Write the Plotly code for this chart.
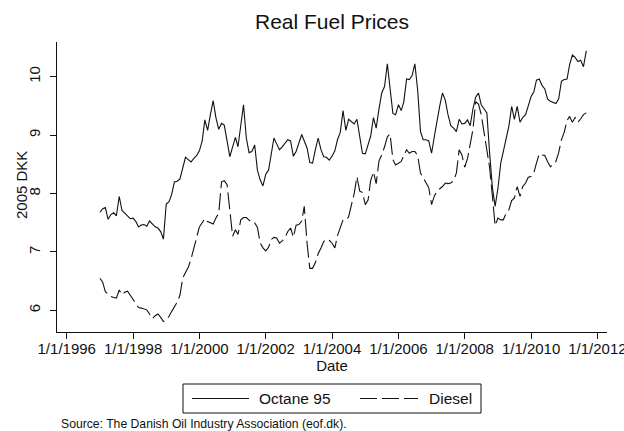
import pandas as pd
import plotly.graph_objects as go

# ---- data ----
start_month = "1997-01-01"
octane95 = [
    7.68, 7.74, 7.76, 7.56, 7.64, 7.67, 7.62, 7.95, 7.71, 7.66,
    7.62, 7.57, 7.58, 7.52, 7.43, 7.46, 7.47, 7.44, 7.53, 7.47,
    7.43, 7.41, 7.35, 7.22, 7.82, 7.86, 7.98, 8.20, 8.21, 8.25,
    8.45, 8.62, 8.58, 8.54, 8.60, 8.65, 8.73, 8.90, 9.26, 9.08,
    9.35, 9.59, 9.30, 9.10, 9.20, 9.17, 8.90, 8.63, 8.80, 8.96,
    8.80, 9.20, 9.52, 8.95, 8.70, 8.72, 8.83, 8.40, 8.23, 8.13,
    8.33, 8.40, 8.70, 8.95, 8.85, 8.75, 8.80, 8.86, 8.92, 8.90,
    8.64, 8.72, 8.85, 9.01, 8.90, 8.78, 8.53, 8.52, 8.75, 8.95,
    8.75, 8.63, 8.62, 8.57, 8.64, 8.73, 8.92, 9.05, 9.42, 9.08,
    9.27, 9.23, 9.19, 9.27, 8.95, 8.69, 8.68, 8.82, 8.98, 9.30,
    9.12, 9.45, 9.72, 9.83, 10.22, 9.80, 9.37, 9.35, 9.52, 9.42,
    9.57, 9.96, 9.95, 10.02, 10.22, 9.77, 9.06, 8.92, 8.92, 8.90,
    8.69, 8.98, 9.26, 9.50, 9.72, 9.60, 9.35, 9.16, 9.12, 9.06,
    9.27, 9.19, 9.20, 9.26, 9.16, 9.45, 9.65, 9.72, 9.52, 9.45,
    9.38, 8.70, 8.10, 7.78, 8.09, 8.52, 8.72, 8.95, 9.15, 9.49,
    9.27, 9.49, 9.22, 9.30, 9.35, 9.50, 9.66, 9.74, 9.94, 9.96,
    9.85, 9.79, 9.62, 9.58, 9.56, 9.54, 9.62, 9.92, 9.95, 9.96,
    10.20, 10.37, 10.33, 10.26, 10.28, 10.17, 10.44,
]
diesel = [
    6.55, 6.48, 6.32, 6.27, 6.24, 6.22, 6.21, 6.35, 6.27, 6.31,
    6.33, 6.26, 6.18, 6.12, 6.05, 6.04, 6.03, 6.01, 5.94, 5.86,
    5.91, 5.94, 5.88, 5.81, 5.84, 5.90, 5.98, 6.06, 6.14, 6.26,
    6.55, 6.65, 6.74, 6.88, 7.05, 7.26, 7.43, 7.50, 7.57, 7.52,
    7.50, 7.48, 7.58, 7.66, 8.20, 8.22, 8.15, 7.70, 7.27, 7.38,
    7.30, 7.55, 7.59, 7.59, 7.54, 7.50, 7.50, 7.42, 7.15, 7.07,
    7.02, 7.08, 7.21, 7.25, 7.24, 7.15, 7.19, 7.25, 7.35, 7.41,
    7.25, 7.46, 7.47, 7.53, 7.78, 7.15, 6.72, 6.72, 6.82, 6.97,
    7.07, 7.18, 7.22, 7.20, 7.15, 7.07, 7.28, 7.40, 7.55, 7.55,
    7.60, 7.80, 8.00, 8.29, 8.04, 8.02, 7.81, 7.89, 8.22, 8.37,
    8.17, 8.56, 8.66, 8.80, 8.97, 9.02, 8.58, 8.49, 8.52, 8.55,
    8.65, 8.75, 8.69, 8.72, 8.72, 8.65, 8.35, 8.26, 8.18, 8.10,
    7.81, 7.96, 8.04, 8.08, 8.12, 8.18, 8.17, 8.18, 8.22, 8.35,
    8.75, 8.66, 8.45, 8.60, 8.85, 9.10, 9.57, 9.53, 9.35, 9.05,
    8.70, 8.45, 7.95, 7.45, 7.58, 7.55, 7.55, 7.66, 7.72, 7.88,
    7.92, 8.12, 7.95, 8.12, 8.18, 8.28, 8.29, 8.36, 8.52, 8.68,
    8.66, 8.65, 8.55, 8.46, 8.50, 8.55, 8.70, 8.92, 9.05, 9.25,
    9.32, 9.22, 9.30, 9.22, 9.28, 9.35, 9.38,
]
x_tick_dates = ["1996-01-01", "1998-01-01", "2000-01-01", "2002-01-01", "2004-01-01",
                "2006-01-01", "2008-01-01", "2010-01-01", "2012-01-01"]
x_tick_labels = ["1/1/1996", "1/1/1998", "1/1/2000", "1/1/2002", "1/1/2004",
                 "1/1/2006", "1/1/2008", "1/1/2010", "1/1/2012"]
y_ticks = [6, 7, 8, 9, 10]
series_names = ["Octane 95", "Diesel"]

dates = pd.date_range(start_month, periods=len(octane95), freq="MS")

FONT = "Liberation Sans, Arial, Helvetica, sans-serif"
INK = "#111111"
DASH = "17px,5px"

fig = go.Figure()
fig.add_trace(go.Scatter(x=dates, y=octane95, mode="lines", name=series_names[0],
                         line=dict(color=INK, width=1.1), showlegend=False))
fig.add_trace(go.Scatter(x=dates, y=diesel, mode="lines", name=series_names[1],
                         line=dict(color=INK, width=1.1, dash=DASH), showlegend=False))

W, H = 624, 431
ML, MR, MT, MB = 57, 17, 42, 99
PW, PH = W - ML - MR, H - MT - MB

def px_x(p):
    return (p - ML) / PW

def px_y(p):
    return (H - MB - p) / PH

fig.update_layout(
    template="none",
    width=W, height=H,
    margin=dict(l=ML, r=MR, t=MT, b=MB, pad=0),
    paper_bgcolor="white", plot_bgcolor="white",
    font=dict(family=FONT, color=INK, size=15),
    title=dict(text="Real Fuel Prices", x=0.5, xref="paper", xanchor="center",
               yref="container", y=1 - 22 / H, yanchor="middle",
               font=dict(size=21, family=FONT, color=INK)),
    showlegend=False,
)
fig.update_xaxes(
    type="date",
    range=["1995-09-16", "2012-04-16"],
    tickvals=x_tick_dates, ticktext=x_tick_labels,
    ticks="outside", ticklen=6, tickwidth=1, tickcolor=INK,
    showline=True, linecolor=INK, linewidth=1,
    showgrid=False, zeroline=False, automargin=False,
    ticklabeloverflow="allow", ticklabelstandoff=-3,
    tickfont=dict(size=15),
    title=dict(text="Date", font=dict(size=15), standoff=2),
)
fig.update_yaxes(
    range=[5.631, 10.593],
    tickvals=y_ticks,
    ticks="outside", ticklen=6, tickwidth=1, tickcolor=INK,
    showline=True, linecolor=INK, linewidth=1,
    showgrid=False, zeroline=False, automargin=False,
    tickangle=-90, ticklabelstandoff=4,
    tickfont=dict(size=15),
)

# legend box (drawn by hand to mimic the Stata legend)
bx0, bx1, by0, by1 = 183, 481, 384, 413
ymid = (by0 + by1) / 2
shapes = [
    dict(type="rect", xref="paper", yref="paper",
         x0=px_x(bx0), x1=px_x(bx1), y0=px_y(by1), y1=px_y(by0),
         line=dict(color=INK, width=1), fillcolor="white"),
    dict(type="line", xref="paper", yref="paper",
         x0=px_x(192), x1=px_x(249), y0=px_y(ymid), y1=px_y(ymid),
         line=dict(color=INK, width=1.1)),
    dict(type="line", xref="paper", yref="paper",
         x0=px_x(360), x1=px_x(418), y0=px_y(ymid), y1=px_y(ymid),
         line=dict(color=INK, width=1.1, dash=DASH)),
]
annotations = [
    dict(text="2005 DKK", xref="paper", yref="paper", x=px_x(21), y=px_y(185),
         xanchor="center", yanchor="middle", textangle=-90, showarrow=False,
         font=dict(size=15)),
    dict(text=series_names[0], xref="paper", yref="paper", x=px_x(257), y=px_y(ymid),
         xanchor="left", yanchor="middle", showarrow=False, font=dict(size=15.5)),
    dict(text=series_names[1], xref="paper", yref="paper", x=px_x(427), y=px_y(ymid),
         xanchor="left", yanchor="middle", showarrow=False, font=dict(size=15.5)),
    dict(text="Source: The Danish Oil Industry Association (eof.dk).",
         xref="paper", yref="paper", x=px_x(59), y=px_y(424),
         xanchor="left", yanchor="middle", showarrow=False, font=dict(size=12.2)),
]
fig.update_layout(shapes=shapes, annotations=annotations)

fig.write_html(
    "out.html",
    config={"displayModeBar": False},
    post_script="document.body.style.margin='0';document.body.style.overflow='hidden';",
)
